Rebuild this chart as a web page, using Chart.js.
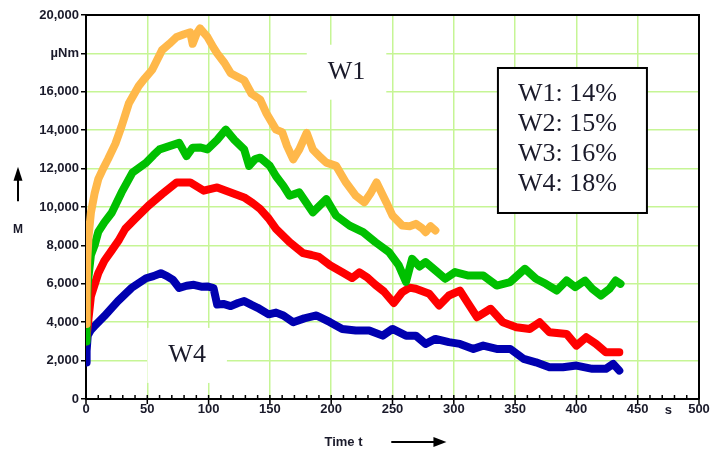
<!DOCTYPE html>
<html>
<head>
<meta charset="utf-8">
<script src="https://cdn.jsdelivr.net/npm/chart.js@4.4.1/dist/chart.umd.min.js"></script>
<style>
  html,body{margin:0;padding:0;background:#fff;}
  canvas{display:block;}
</style>
</head>
<body>
<canvas id="c" width="715" height="457"></canvas>
<script>
// ---- data (time t in s, torque M) ----
const w1T = [0,0.5,1,2,4,7,10,14,18,24,29,35,43,48,54,62,68,74,80,85,87,90,93,99,104,107,113,118,123,129,135,142,147,155,160,164,169,174,180,185,191,196,204,212,220,227,232,237,245,250,258,264,269,274,277,281,285];
const w1M = [3900,5500,7200,8400,9700,10700,11450,12000,12500,13300,14200,15400,16300,16700,17150,18170,18500,18860,19000,19100,18500,19000,19300,18860,18300,18000,17500,16970,16800,16600,15900,15600,14900,14030,13900,13170,12480,13000,13860,13000,12600,12310,12140,11280,10590,10240,10700,11280,10240,9550,9030,9000,9120,8900,8690,9000,8780];

const w2T = [0,0.5,1.4,4,7,10,15,21,29,38,49,55,60,68,76,82,87,93,99,107,114,121,129,133,138,142,150,155,161,166,174,180,185,191,196,204,215,226,236,247,255,261,266,272,277,285,293,301,312,316,324,335,346,358,367,375,384,392,399,407,413,420,427,432,436];
const w2M = [3000,4500,6000,7500,8000,8700,9200,9700,10760,11800,12300,12700,13000,13170,13340,12650,13090,13100,13000,13500,14030,13500,13000,12140,12500,12570,12140,11600,11100,10590,10760,10200,9720,10100,10410,9550,9030,8690,8170,7660,6970,6100,7300,6900,7130,6700,6260,6610,6430,6430,6430,5910,6090,6780,6260,6000,5650,6170,5830,6170,5740,5390,5740,6170,6000];

const w3T = [0,1.4,4,10,15,21,27,32,40,51,62,74,85,96,107,118,129,136,142,149,155,166,177,184,190,199,209,217,223,229,236,243,251,258,264,269,280,288,296,305,311,319,330,340,351,362,370,378,392,400,408,416,424,435];
const w3M = [3000,3800,5350,6550,7200,7740,8300,8860,9380,10070,10670,11280,11280,10850,11020,10760,10500,10200,9900,9400,8860,8170,7600,7500,7400,6970,6600,6300,6600,6350,5950,5600,5000,5570,5800,5740,5480,4870,5390,5650,5040,4260,4700,4000,3740,3650,4000,3480,3390,2780,3220,2870,2430,2430];

const w4T = [0,0.5,1.4,4,7,15,26,37,49,55,61,66,71,76,82,88,94,99,104,107,112,118,124,129,135,140,149,155,161,169,178,188,199,209,220,231,242,250,261,269,277,285,296,305,316,324,335,346,357,367,378,389,400,413,424,430,435];
const w4M = [1900,2500,3300,3600,3800,4320,5100,5780,6290,6400,6550,6400,6200,5780,5900,5950,5850,5860,5780,4920,4950,4840,5000,5100,4900,4750,4410,4500,4350,4000,4200,4350,4000,3650,3570,3570,3300,3650,3300,3300,2870,3130,2960,2870,2610,2780,2610,2610,2090,1910,1650,1650,1740,1570,1570,1830,1480];

const seriesNames = ['W1','W2','W3','W4'];
const legendLines = ['W1: 14%','W2: 15%','W3: 16%','W4: 18%'];
const xTickMax = 500, xStep = 50, yMax = 20000, yStep = 2000;
const unitTickLabel = 'µNm';   // replaces 18,000
const xUnit = 's';

// ---- styles ----
const colors = ['#ffb84a','#00c000','#ff0000','#0000b0'];
const gridColor = '#c6f595';
const textColor = '#1a1a2a';
const labelFont = '"Liberation Sans", Arial, sans-serif';
const serifFont = '"Liberation Serif", "Times New Roman", serif';

function pts(t, m){ return t.map((v,i)=>({x:v, y:m[i]})); }

const datasets = [[w1T,w1M],[w2T,w2M],[w3T,w3M],[w4T,w4M]].map((s,i)=>({
  label: seriesNames[i],
  data: pts(s[0], s[1]),
  borderColor: colors[i],
  backgroundColor: colors[i],
  borderWidth: 8,
  pointRadius: 0,
  tension: 0,
  borderJoinStyle: 'round',
  borderCapStyle: 'round',
  fill: false
}));

const deco = {
  id: 'deco',
  beforeDatasetsDraw(chart){
    const {ctx, scales:{x,y}} = chart;
    ctx.save();
    ctx.font = '26px ' + serifFont;
    const labs = [['W1', 212.5, 17150], ['W4', 82.5, 2400]];
    labs.forEach(([txt, tv, mv])=>{
      const px = x.getPixelForValue(tv), py = y.getPixelForValue(mv);
      const w = ctx.measureText(txt).width;
      ctx.fillStyle = '#fff';
      ctx.fillRect(px - w/2 - 21, py - 25, w + 42, 55);
      ctx.fillStyle = textColor;
      ctx.textAlign = 'center';
      ctx.textBaseline = 'middle';
      ctx.fillText(txt, px, py + 2);
    });
    ctx.restore();
  },
  afterDatasetsDraw(chart){
    const {ctx, chartArea:ca, scales:{x,y}} = chart;
    ctx.save();
    ctx.strokeStyle = '#000';
    ctx.lineWidth = 2;
    ctx.beginPath();
    ctx.moveTo(ca.left, ca.top); ctx.lineTo(ca.right, ca.top); ctx.lineTo(ca.right, ca.bottom);
    ctx.stroke();
    ctx.lineWidth = 1.5;
    ctx.beginPath();
    for (let t = 0; t <= xTickMax; t += 10) {
      const px = x.getPixelForValue(t);
      if (t % xStep === 0) { ctx.moveTo(px, ca.bottom - 4); ctx.lineTo(px, ca.bottom + 5); }
      else { ctx.moveTo(px, ca.bottom - 4); ctx.lineTo(px, ca.bottom); }
    }
    ctx.stroke();
    const bx = x.getPixelForValue(336), by = y.getPixelForValue(17240);
    const bw = 149, bh = 145;
    ctx.fillStyle = '#fff';
    ctx.fillRect(bx, by, bw, bh);
    ctx.strokeStyle = '#000';
    ctx.lineWidth = 2;
    ctx.strokeRect(bx, by, bw, bh);
    ctx.fillStyle = textColor;
    ctx.font = '26px ' + serifFont;
    ctx.textAlign = 'left';
    ctx.textBaseline = 'middle';
    legendLines.forEach((s,i)=>{ ctx.fillText(s, bx + 20, by + 26 + i*30); });
    ctx.font = 'bold 13px ' + labelFont;
    ctx.textAlign = 'center';
    ctx.textBaseline = 'top';
    ctx.fillText(xUnit, x.getPixelForValue(475), ca.bottom + 5);
    ctx.textBaseline = 'middle';
    ctx.fillText('Time t', x.getPixelForValue(210), ca.bottom + 43);
    const ay = ca.bottom + 43;
    const ax0 = x.getPixelForValue(249), ax1 = x.getPixelForValue(294);
    ctx.strokeStyle = '#000';
    ctx.lineWidth = 2;
    ctx.beginPath(); ctx.moveTo(ax0, ay); ctx.lineTo(ax1 - 10, ay); ctx.stroke();
    ctx.fillStyle = '#000';
    ctx.beginPath(); ctx.moveTo(ax1, ay); ctx.lineTo(ax1 - 13, ay - 5); ctx.lineTo(ax1 - 13, ay + 5); ctx.closePath(); ctx.fill();
    ctx.fillStyle = textColor;
    ctx.font = 'bold 12px ' + labelFont;
    ctx.textAlign = 'center';
    ctx.fillText('M', 18, y.getPixelForValue(8800));
    const vx = 18, vy0 = y.getPixelForValue(10300), vy1 = y.getPixelForValue(12100);
    ctx.strokeStyle = '#000';
    ctx.lineWidth = 2;
    ctx.beginPath(); ctx.moveTo(vx, vy0); ctx.lineTo(vx, vy1 + 10); ctx.stroke();
    ctx.fillStyle = '#000';
    ctx.beginPath(); ctx.moveTo(vx, vy1); ctx.lineTo(vx - 4.5, vy1 + 14); ctx.lineTo(vx + 4.5, vy1 + 14); ctx.closePath(); ctx.fill();
    ctx.restore();
  }
};

new Chart(document.getElementById('c'), {
  type: 'line',
  data: { datasets },
  plugins: [deco],
  options: {
    responsive: false,
    animation: false,
    devicePixelRatio: 1,
    layout: { padding: { top: 15, right: 16, left: 0, bottom: 0 } },
    plugins: { legend: { display: false }, tooltip: { enabled: false } },
    scales: {
      x: {
        type: 'linear', min: 0, max: xTickMax,
        ticks: { stepSize: xStep, color: textColor, font: { family: labelFont, size: 13, weight: 'bold' }, padding: 3, maxRotation: 0,
                 callback: v => String(v) },
        grid: { color: gridColor, lineWidth: 1.5, drawTicks: false },
        border: { color: '#000', width: 2 },
        afterFit(s){ s.height = 58; }
      },
      y: {
        min: 0, max: yMax,
        ticks: { stepSize: yStep, color: textColor, font: { family: labelFont, size: 13, weight: 'bold' }, padding: 2,
                 callback: v => v === 18000 ? unitTickLabel : v.toLocaleString('en-US') },
        grid: { color: gridColor, lineWidth: 1.5, tickColor: '#000', tickLength: 5 },
        border: { color: '#000', width: 2 },
        afterFit(s){ s.width = 86; }
      }
    }
  }
});
</script>
</body>
</html>
